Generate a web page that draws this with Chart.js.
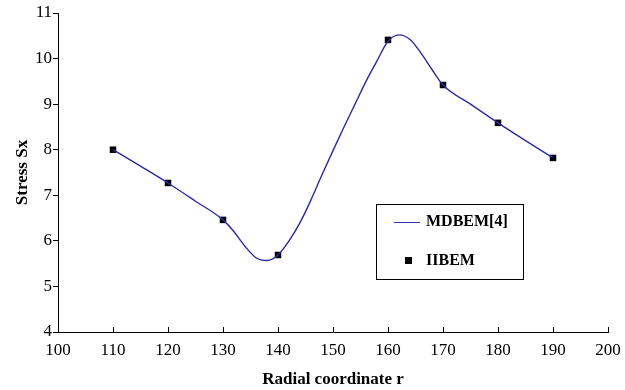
<!DOCTYPE html>
<html>
<head>
<meta charset="utf-8">
<script src="https://cdn.jsdelivr.net/npm/chart.js@4.4.1/dist/chart.umd.min.js"></script>
<style>
html, body { margin: 0; padding: 0; background: #fff; }
#wrap { width: 625px; height: 390px; position: relative; }
</style>
</head>
<body>
<div id="wrap"><canvas id="chart" width="625" height="390"></canvas></div>
<script>
/* data */
const iibemR = [110, 120, 130, 140, 160, 170, 180, 190];
const iibemS = [8.0, 7.27, 6.46, 5.69, 10.41, 9.42, 8.59, 7.82];

const mdbemR = [110, 115, 120, 125, 130, 132, 134, 136, 138, 140, 142, 144, 146, 148, 150, 152, 154, 156, 158, 160, 162, 164, 166, 168, 170, 175, 180, 185, 190];
const mdbemS = [8.0, 7.64, 7.27, 6.87, 6.46, 6.2, 5.88, 5.63, 5.57, 5.69, 6.0, 6.4, 6.9, 7.45, 7.98, 8.5, 9.0, 9.5, 9.95, 10.38, 10.52, 10.42, 10.12, 9.76, 9.42, 9.0, 8.59, 8.2, 7.82];

const xTicks = [100, 110, 120, 130, 140, 150, 160, 170, 180, 190, 200];

const serif = "'Liberation Serif', 'Times New Roman', serif";

/* inward x ticks + legend box */
const extras = {
id: "extras",
afterDraw(chart) {
const ctx = chart.ctx;
const x = chart.scales.x;
const area = chart.chartArea;
ctx.save();
ctx.strokeStyle = "#000";
ctx.lineWidth = 1;
xTicks.forEach(v => {
let px = Math.round(x.getPixelForValue(v)) + 0.5;
ctx.beginPath();
ctx.moveTo(px, area.bottom);
ctx.lineTo(px, area.bottom - 5);
ctx.stroke();
});

/* legend */
ctx.fillStyle = "#fff";
ctx.fillRect(376.5, 204.5, 147, 75);
ctx.strokeRect(376.5, 204.5, 147, 75);
ctx.strokeStyle = "#3333aa";
ctx.beginPath();
ctx.moveTo(394, 222.5);
ctx.lineTo(420, 222.5);
ctx.stroke();
ctx.fillStyle = "#000";
ctx.fillRect(405, 257, 7, 7);
ctx.font = "bold 16px " + serif;
ctx.textBaseline = "middle";
ctx.fillText("MDBEM[4]", 426, 222);
ctx.fillText("IIBEM", 426, 261);
ctx.restore();
}
};

new Chart(document.getElementById("chart"), {
type: "scatter",
data: {
datasets: [
{
label: "MDBEM[4]",
data: mdbemR.map((r, i) => ({ x: r, y: mdbemS[i] })),
showLine: true,
borderColor: "#2b2ba3",
borderWidth: 1.4,
pointRadius: 0,
cubicInterpolationMode: "monotone",
fill: false
},
{
label: "IIBEM",
data: iibemR.map((r, i) => ({ x: r, y: iibemS[i] })),
showLine: false,
pointStyle: "rect",
pointRadius: 4.6,
backgroundColor: "#000",
borderColor: "#000",
borderWidth: 0
}
]
},
options: {
responsive: false,
animation: false,
layout: { padding: { top: 13, right: 17, left: 0, bottom: 0 } },
plugins: {
legend: { display: false },
tooltip: { enabled: false }
},
scales: {
x: {
type: "linear",
min: 100,
max: 200,
afterBuildTicks: axis => { axis.ticks = xTicks.map(v => ({ value: v })); },
afterFit: axis => { axis.height = 58; axis.paddingRight = 0; axis.paddingLeft = 0; },
border: { color: "#000", width: 1 },
grid: { display: true, drawOnChartArea: false, drawTicks: false, tickLength: 0 },
ticks: { color: "#000", padding: 8, font: { family: serif, size: 17 } },
title: { display: true, text: "Radial coordinate r", color: "#000", padding: { top: 4, bottom: 0 }, font: { family: serif, size: 17, weight: "bold" } }
},
y: {
min: 4,
max: 11,
afterFit: axis => { axis.width = 58; axis.paddingTop = 0; axis.paddingBottom = 0; },
border: { color: "#000", width: 1 },
grid: { display: true, drawOnChartArea: false, drawTicks: true, tickLength: 5, color: "#000" },
ticks: { stepSize: 1, color: "#000", padding: 1, font: { family: serif, size: 17 } },
title: { display: true, text: "Stress Sx", color: "#000", padding: { top: 12, bottom: 0 }, font: { family: serif, size: 17, weight: "bold" } }
}
}
},
plugins: [extras]
});
</script>
</body>
</html>
